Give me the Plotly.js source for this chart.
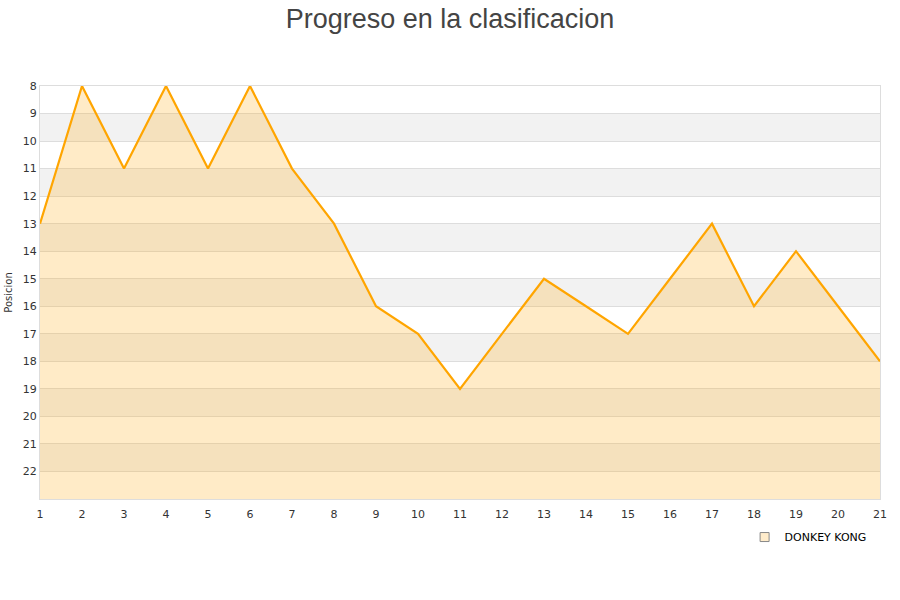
<!DOCTYPE html>
<html>
<head>
<meta charset="utf-8">
<script src="https://cdn.plot.ly/plotly-3.0.1.min.js"></script>
<style>html,body{margin:0;padding:0;background:#fff;}#chart{width:900px;height:600px;}</style>
</head>
<body>
<div id="chart"></div>
<script>
var jornadas = [1,2,3,4,5,6,7,8,9,10,11,12,13,14,15,16,17,18,19,20,21];
var posiciones = [13,8,11,8,11,8,11,13,16,17,19,17,15,16,17,15,13,16,14,16,18];
var yTicks = [8,9,10,11,12,13,14,15,16,17,18,19,20,21,22];
var teamName = "DONKEY KONG";
var chartTitle = "Progreso en la clasificacion";
var yTitle = "Posicion";
var bottomPos = 23;

var baseline = jornadas.map(function(){ return bottomPos; });

var shapes = [];
for (var i = 0; i < yTicks.length; i++) {
  var v = yTicks[i];
  if (v % 2 === 1) {
    shapes.push({type:'rect', xref:'paper', yref:'y', x0:0, x1:1, y0:v, y1:v+1,
      fillcolor:'#f2f2f2', line:{width:0}, layer:'below'});
  }
}

var traces = [
  {x: jornadas, y: baseline, mode:'lines', line:{width:0}, showlegend:false, hoverinfo:'skip'},
  {x: jornadas, y: posiciones, mode:'lines', fill:'tonexty', fillcolor:'rgba(255,170,15,0.23)',
   line:{color:'#FFA500', width:2.2}, showlegend:false, name: teamName},
  {x:[null], y:[null], mode:'markers', name: teamName,
   marker:{symbol:'square', size:9, color:'#ffeccb', line:{color:'#888', width:1}}}
];

var layout = {
  width:900, height:600,
  paper_bgcolor:'#fff', plot_bgcolor:'#fff',
  margin:{l:40, r:20, t:86, b:101},
  title:{text: chartTitle, x:0.5, xanchor:'center', y:0.985, yanchor:'top',
    font:{family:'Liberation Sans, Arial, sans-serif', size:27, color:'#444'}},
  xaxis:{range:[1,21], tickvals: jornadas, ticktext: jornadas.map(String),
    showgrid:false, zeroline:false, showline:true, linecolor:'#ddd', mirror:true,
    ticks:'', ticklabelstandoff:5, tickfont:{family:'DejaVu Sans, sans-serif', size:11, color:'#333'}},
  yaxis:{range:[bottomPos, 8], tickvals: yTicks, ticktext: yTicks.map(String),
    showgrid:true, gridcolor:'#dddddd', zeroline:false, showline:true, linecolor:'#ddd', mirror:true,
    ticks:'', tickfont:{family:'DejaVu Sans, sans-serif', size:11, color:'#333'},
    title:{text: yTitle, standoff:8, font:{family:'DejaVu Sans, sans-serif', size:10, color:'#333'}}},
  shapes: shapes,
  showlegend:true,
  legend:{orientation:'h', x:0.99, xanchor:'right', y:-0.057, yanchor:'top',
    font:{family:'DejaVu Sans, sans-serif', size:11, color:'#000'}, bgcolor:'rgba(0,0,0,0)'}
};

Plotly.newPlot('chart', traces, layout, {displayModeBar:false, staticPlot:true});
</script>
</body>
</html>
